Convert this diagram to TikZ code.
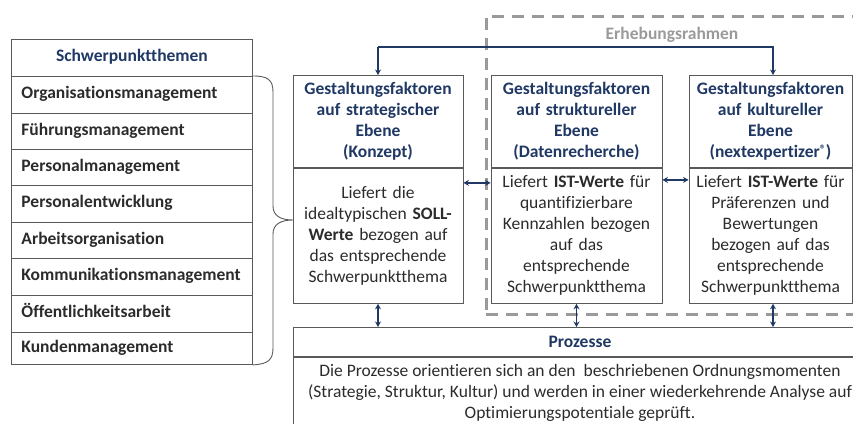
\documentclass[tikz,border=0pt]{standalone}
\usepackage{fontspec}
\setmainfont{Carlito}[Ligatures=NoCommon]
\usetikzlibrary{arrows.meta,calc}
\definecolor{navy}{HTML}{1F3864}
\definecolor{frameline}{HTML}{595959}
\definecolor{bodytext}{HTML}{2B2B2B}
\definecolor{dashgray}{HTML}{9A9A9A}
\newcommand{\mainsize}{\fontsize{17.5}{21}\selectfont}
\newcommand{\regmark}{\raisebox{0.45ex}{\fontsize{12}{12}\selectfont ®}}
\begin{document}
\begin{tikzpicture}[x=1pt,y=-1pt,
  every node/.style={font=\mainsize, text=bodytext},
  cell/.style={draw=frameline, line width=0.9pt, rectangle, anchor=north west,
    minimum width=241pt, text width=221pt, inner xsep=10pt, inner ysep=0pt,
    align=left, font=\mainsize\bfseries,
    text height=12pt, text depth=4pt},
  headcell/.style={cell, align=center, text=navy},
  boxhead/.style={draw=frameline, line width=0.9pt, rectangle, anchor=north,
    minimum height=92pt, inner xsep=3pt, align=center,
    font=\mainsize\bfseries, text=navy},
  boxbody/.style={draw=frameline, line width=0.9pt, rectangle, anchor=north,
    minimum height=135pt, inner xsep=3pt, align=center},
  link/.style={draw=navy, line width=1.3pt,
    {Stealth[length=5.5pt,width=6pt]}-{Stealth[length=5.5pt,width=6pt]}},
  toplink/.style={draw=navy, line width=1.3pt, -{Stealth[length=5.5pt,width=6pt]}},
  dashframe/.style={draw=dashgray, line width=2.6pt, dash pattern=on 12pt off 8pt,
    rectangle, anchor=north west, inner sep=0pt},
  bracket/.style={draw=frameline, line width=0.9pt}
]
\useasboundingbox (0,0) rectangle (853,423);

% survey frame (dashed), drawn first so the arrows lie on top
\node[dashframe, minimum width=400pt, minimum height=298pt] (frame) at (485,15) {};
\node[font=\mainsize\bfseries, text=dashgray] (frametitle) at (672,35) {Erhebungsrahmen};

% list of focus topics
\node[headcell, minimum height=37pt] (t0) at (11,39) {Schwerpunktthemen};
\node[cell, minimum height=37pt] (t1) at (11,76) {Organisationsmanagement};
\node[cell, minimum height=36pt] (t2) at (11,113) {Führungsmanagement};
\node[cell, minimum height=36pt] (t3) at (11,149) {Personalmanagement};
\node[cell, minimum height=37pt] (t4) at (11,185) {Personalentwicklung};
\node[cell, minimum height=36pt] (t5) at (11,222) {Arbeitsorganisation};
\node[cell, minimum height=37pt] (t6) at (11,258) {Kommunikationsmanagement};
\node[cell, minimum height=37pt] (t7) at (11,295) {Öffentlichkeitsarbeit};
\node[cell, minimum height=32pt] (t8) at (11,332) {Kundenmanagement};

% curly brace grouping the topics
\draw[bracket] (t1.north east) .. controls (268,76) and (273,80) .. (273,92)
  -- (273,206) .. controls (273,216) and (281,220) .. (293,220)
  .. controls (281,220) and (273,224) .. (273,234)
  -- (273,348) .. controls (273,360) and (268,364) .. (t8.south east);

% strategic level
\node[boxhead, minimum width=170pt, text width=164pt] (h1) at (378,75)
  {Gestaltungsfaktoren\\auf strategischer\\Ebene\\(Konzept)};
\node[boxbody, minimum width=170pt, text width=164pt] (b1) at (h1.south)
  {Liefert die\\idealtypischen \textbf{SOLL-}\\\textbf{Werte} bezogen auf\\das entsprechende\\Schwerpunktthema};

% structural level
\node[boxhead, minimum width=171pt, text width=165pt] (h2) at (576.5,75)
  {Gestaltungsfaktoren\\auf struktureller\\Ebene\\(Datenrecherche)};
\node[boxbody, minimum width=171pt, text width=165pt] (b2) at (h2.south)
  {Liefert \textbf{IST-Werte} für\\quantifizierbare\\Kennzahlen bezogen\\auf das\\entsprechende\\Schwerpunktthema};

% cultural level
\node[boxhead, minimum width=163pt, text width=157pt] (h3) at (770.5,75)
  {Gestaltungsfaktoren\\auf kultureller\\Ebene\\(nextexpertizer\regmark)};
\node[boxbody, minimum width=163pt, text width=157pt] (b3) at (h3.south)
  {Liefert \textbf{IST-Werte} für\\Präferenzen und\\Bewertungen\\bezogen auf das\\entsprechende\\Schwerpunktthema};

% processes
\node[draw=frameline, line width=0.9pt, rectangle, anchor=north west,
  minimum width=573pt, minimum height=29pt, inner sep=0pt,
  font=\mainsize\bfseries, text=navy] (p) at (293,327) {Prozesse};
\node[draw=frameline, line width=0.9pt, rectangle, anchor=north,
  minimum width=573pt, minimum height=72pt, inner sep=0pt, align=center] (pb) at (p.south)
  {Die Prozesse orientieren sich an den\ \ beschriebenen Ordnungsmomenten\\(Strategie, Struktur, Kultur) und werden in einer wiederkehrende Analyse auf\\Optimierungspotentiale geprüft.};

% connectors
\coordinate (topleft) at ($(h1.north)+(0,-28)$);
\coordinate (h3in) at ($(h3.north)+(2.5,0)$);
\draw[toplink] (topleft) -- (h1.north);
\draw[toplink] (topleft) -| (h3in);
\draw[link] ($(b1.north east)+(0,15)$) -- ($(b2.north west)+(0,15)$);
\draw[link] ($(b2.north east)+(0,12)$) -- ($(b3.north west)+(0,12)$);
\draw[link] (b1.south) -- (b1.south |- p.north);
\draw[link] (b2.south) -- (b2.south |- p.north);
\draw[link] ([xshift=2.5pt]b3.south) -- ([xshift=2.5pt]b3.south |- p.north);
\end{tikzpicture}
\end{document}
